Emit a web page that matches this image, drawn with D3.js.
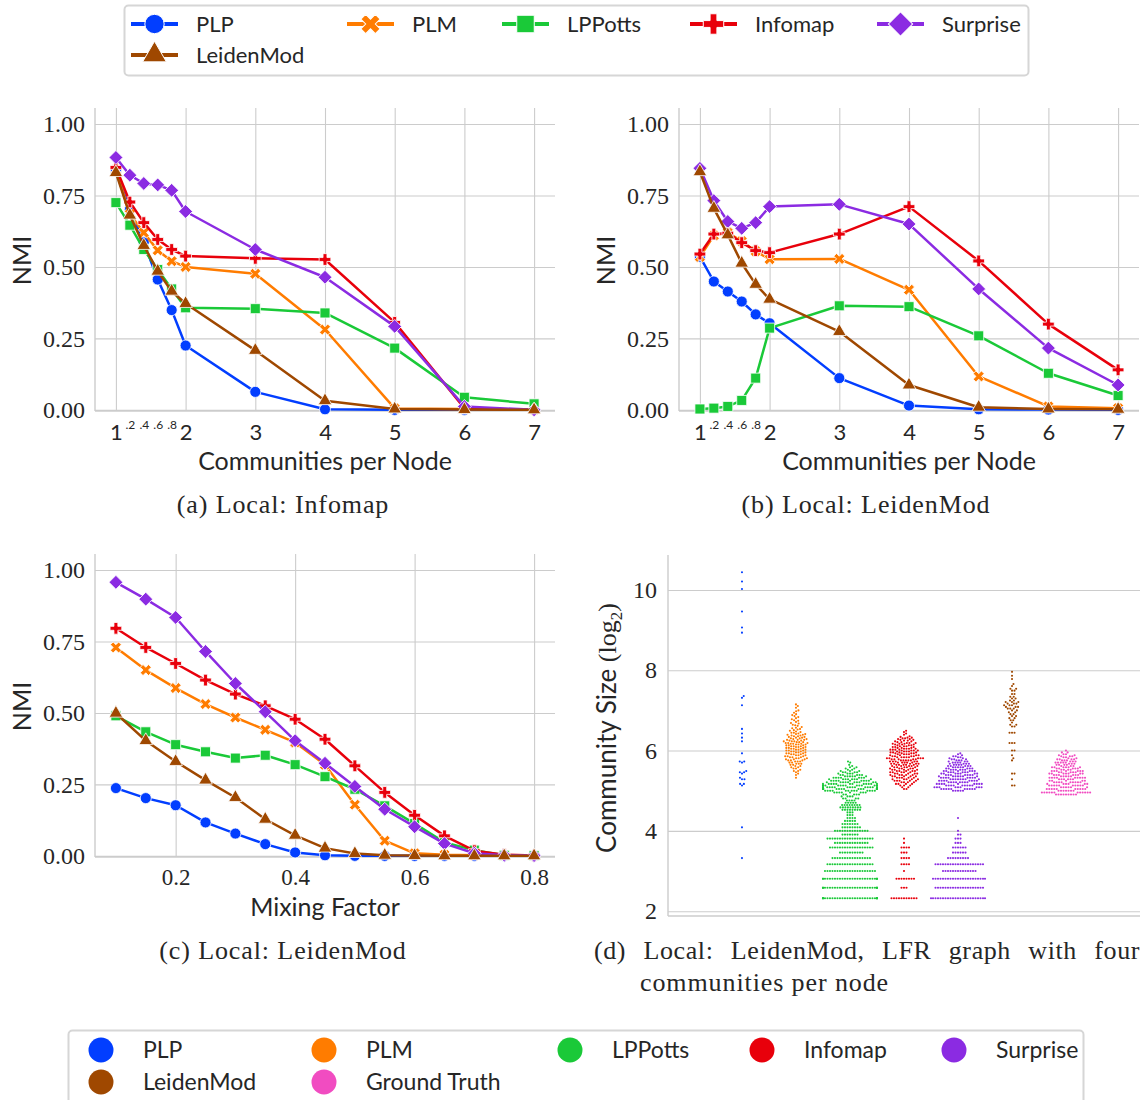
<!DOCTYPE html>
<html>
<head>
<meta charset="utf-8">
<script src="https://cdn.jsdelivr.net/npm/d3@7"></script>
<style>
  body { margin: 0; background: #fff; }
  text { fill: #262626; }
  .sans { font-family: Lato, "Open Sans", sans-serif; }
  .serif { font-family: "Liberation Serif", "DejaVu Serif", serif; }
</style>
</head>
<body>
<svg id="fig" width="1142" height="1100"></svg>
<script>
// ---- values ----
var methods = ['PLP', 'PLM', 'LPPotts', 'Infomap', 'Surprise', 'LeidenMod'];
var cpn = [1, 1.2, 1.4, 1.6, 1.8, 2, 3, 4, 5, 6, 7];
var mixing = [0.1, 0.15, 0.2, 0.25, 0.3, 0.35, 0.4, 0.45, 0.5, 0.55, 0.6, 0.65, 0.7, 0.75, 0.8];

// (a) Local: Infomap
var aPLP       = [0.836, 0.700, 0.586, 0.456, 0.349, 0.225, 0.063, 0.002, 0.000, 0.000, 0.000];
var aPLM       = [0.840, 0.685, 0.620, 0.558, 0.520, 0.500, 0.476, 0.281, 0.005, 0.003, 0.000];
var aLPPotts   = [0.725, 0.646, 0.561, 0.491, 0.423, 0.357, 0.354, 0.339, 0.216, 0.044, 0.021];
var aInfomap   = [0.848, 0.727, 0.655, 0.596, 0.561, 0.538, 0.530, 0.526, 0.306, 0.006, 0.000];
var aSurprise  = [0.883, 0.821, 0.792, 0.787, 0.768, 0.694, 0.561, 0.464, 0.292, 0.012, 0.000];
var aLeidenMod = [0.830, 0.681, 0.575, 0.485, 0.415, 0.372, 0.208, 0.032, 0.003, 0.001, 0.000];

// (b) Local: LeidenMod
var bPLP       = [0.536, 0.449, 0.414, 0.379, 0.334, 0.303, 0.111, 0.015, 0.002, 0.001, 0.000];
var bPLM       = [0.535, 0.610, 0.620, 0.590, 0.555, 0.527, 0.528, 0.420, 0.117, 0.012, 0.006];
var bLPPotts   = [0.003, 0.006, 0.012, 0.033, 0.111, 0.286, 0.364, 0.361, 0.259, 0.128, 0.050];
var bInfomap   = [0.545, 0.615, 0.618, 0.585, 0.557, 0.550, 0.615, 0.711, 0.521, 0.300, 0.140];
var bSurprise  = [0.845, 0.732, 0.659, 0.635, 0.655, 0.711, 0.719, 0.650, 0.423, 0.216, 0.087];
var bLeidenMod = [0.833, 0.705, 0.612, 0.513, 0.439, 0.387, 0.274, 0.087, 0.009, 0.003, 0.002];

// (c) Local: LeidenMod, mixing factor
var cPLP       = [0.237, 0.202, 0.177, 0.117, 0.078, 0.041, 0.012, 0.002, 0.000, 0.000, 0.000, 0.000, 0.000, 0.000, 0.000];
var cPLM       = [0.729, 0.650, 0.587, 0.531, 0.484, 0.441, 0.397, 0.319, 0.179, 0.053, 0.009, 0.004, 0.002, 0.001, 0.000];
var cLPPotts   = [0.490, 0.434, 0.389, 0.364, 0.342, 0.352, 0.319, 0.277, 0.233, 0.175, 0.113, 0.047, 0.020, 0.002, 0.001];
var cInfomap   = [0.796, 0.729, 0.673, 0.615, 0.566, 0.525, 0.478, 0.408, 0.315, 0.222, 0.142, 0.070, 0.018, 0.004, 0.001];
var cSurprise  = [0.957, 0.898, 0.834, 0.715, 0.603, 0.504, 0.403, 0.324, 0.243, 0.163, 0.102, 0.043, 0.009, 0.002, 0.001];
var cLeidenMod = [0.499, 0.403, 0.330, 0.265, 0.204, 0.128, 0.072, 0.027, 0.008, 0.002, 0.001, 0.000, 0.000, 0.000, 0.000];

var nmiTicks = [0, 0.25, 0.5, 0.75, 1];
var cpnTicks = [1, 2, 3, 4, 5, 6, 7];
var cpnMinor = [1.2, 1.4, 1.6, 1.8];
var mixTicks = [0.2, 0.4, 0.6, 0.8];

// (d) community sizes, [size, how many communities]
var swarmNames = ['PLP', 'PLM', 'LPPotts', 'Infomap', 'Surprise', 'LeidenMod', 'Ground Truth'];
var sizeTicks = [2, 4, 6, 8, 10];
var swPLP = [[10,1],[17,1],[35,1],[36,2],[39,2],[40,1],[43,1],[44,2],[45,1],[52,1],[53,2],[61,1],[75,1],[80,1],[86,1],[93,1],
  [140,1],[159,1],[164,1],[490,1],[535,1],[705,1],[1040,1],[1185,1],[1390,1]];
var swPLM = [[40,1],[42,1],[43,1],[44,1],[45,2],[46,1],[47,2],[48,2],[49,2],[50,2],[51,3],[52,2],[53,3],[54,3],[55,3],[56,3],
  [57,3],[58,3],[59,3],[60,3],[61,3],[62,3],[63,3],[64,3],[65,3],[66,3],[67,3],[68,3],[69,3],[70,3],[71,3],[72,3],[73,3],
  [74,3],[75,3],[76,2],[77,3],[78,2],[79,2],[80,2],[81,2],[82,2],[83,2],[84,2],[85,2],[86,1],[87,2],[88,1],[89,1],[90,1],
  [91,1],[92,1],[93,1],[94,1],[95,1],[96,1],[98,1],[99,1],[100,1],[102,1],[103,1],[105,1],[107,1],[108,1],[110,1],[112,1],
  [114,1],[116,1],[118,1],[120,1],[123,1],[126,1],[128,1],[134,1],[138,1],[142,1]];
var swLPPotts = [[5,30],[6,28],[7,26],[8,21],[9,19],[10,16],[11,10],[12,18],[13,14],[14,19],[15,7],[16,14],[17,8],[18,7],
  [19,5],[20,4],[21,3],[22,3],[23,8],[24,9],[25,8],[26,5],[27,4],[28,4],[29,4],[30,5],[31,8],[32,13],[33,16],[34,16],
  [35,14],[36,12],[37,10],[38,9],[39,8],[40,7],[41,6],[42,5],[43,4],[44,4],[45,3],[46,2],[47,2],[48,2],[49,1],[50,1],
  [52,1],[53,1]];
var swInfomap = [[5,11],[6,3],[7,8],[8,1],[9,4],[10,4],[11,3],[12,4],[13,1],[14,1],
  [33,2],[34,2],[35,3],[36,4],[37,4],[38,5],[39,5],[40,5],[41,5],[42,5],[43,5],[44,5],[45,5],[46,5],[47,5],[48,5],[49,5],
  [50,5],[51,5],[52,5],[53,5],[54,5],[55,5],[56,5],[57,5],[58,4],[59,4],[60,4],[61,4],[62,4],[63,4],[64,4],[65,4],[66,4],
  [67,3],[68,3],[69,3],[70,3],[71,3],[72,3],[73,3],[74,2],[75,2],[76,2],[77,2],[78,2],[79,2],[80,2],[81,1],[82,1],[84,1],
  [86,1],[88,1],[90,1]];
var swSurprise = [[5,23],[6,20],[7,22],[8,14],[9,20],[10,9],[11,6],[12,6],[13,3],[14,3],[15,2],[16,1],[20,1],
  [32,5],[33,10],[34,9],[35,9],[36,9],[37,8],[38,8],[39,8],[40,8],[41,7],[42,7],[43,7],[44,6],[45,6],[46,6],[47,5],
  [48,5],[49,5],[50,4],[51,4],[52,4],[53,3],[54,3],[55,3],[56,2],[57,2],[58,2],[59,1],[60,1],[61,1]];
var swLeidenMod = [[35,2],[39,1],[43,2],[54,1],[56,1],[59,1],[64,2],[73,3],[87,3],[97,2],[100,2],[104,1],[108,2],[112,2],
  [116,2],[120,2],[124,2],[128,2],[132,3],[136,3],[140,3],[144,3],[148,3],[152,2],[157,2],[162,2],[170,2],[180,2],[186,2],
  [195,1],[202,1],[220,1],[233,1],[249,1]];
var swGroundTruth = [[30,9],[31,12],[32,7],[33,10],[34,6],[35,10],[36,6],[37,9],[38,5],[39,6],[40,9],[41,5],[42,6],[43,7],
  [44,5],[45,7],[46,4],[47,5],[48,6],[49,3],[50,4],[51,3],[52,5],[53,3],[54,3],[55,4],[56,2],[57,2],[58,3],[59,2],[60,2],
  [62,2],[64,1]];

// ---- style ----
var color = d3.scaleOrdinal().domain(swarmNames)
  .range(['#023eff', '#ff7c00', '#1ac938', '#e8000b', '#8b2be2', '#9f4800', '#f14cc1']);
var shapeOf = { PLP: 'circle', PLM: 'x', LPPotts: 'square', Infomap: 'plus', Surprise: 'diamond', LeidenMod: 'triangle' };
var gridColor = '#cccccc';

var svg = d3.select('#fig');

function symbolFor(shape, k) {
  var s = { circle: [d3.symbolCircle, 96], x: [d3.symbolCross, 76], square: [d3.symbolSquare, 100],
            plus: [d3.symbolCross, 76], diamond: [d3.symbolSquare, 96], triangle: [d3.symbolTriangle, 80] }[shape];
  return d3.symbol(s[0], s[1] * k * k)();
}
function rotFor(shape) { return (shape == 'x' || shape == 'diamond') ? 45 : 0; }

function grid(sel) {
  sel.select('.domain').remove();
  sel.selectAll('line').attr('stroke', gridColor).attr('stroke-width', 1.1);
}

function nmiPanel(p) {
  var x = d3.scaleLinear().domain(p.xDomain).range([p.left, p.right]);
  var y = d3.scaleLinear().domain([-0.004, 1.056]).range([p.bottom, p.top]);
  var g = svg.append('g');

  g.append('g').attr('transform', 'translate(' + p.left + ',0)')
    .call(d3.axisLeft(y).tickValues(nmiTicks).tickSize(-(p.right - p.left)).tickFormat(''))
    .call(grid);
  g.append('g').attr('transform', 'translate(0,' + p.bottom + ')')
    .call(d3.axisBottom(x).tickValues(p.xTicks).tickSize(-(p.bottom - p.top)).tickFormat(''))
    .call(grid);
  g.append('line').attr('x1', p.left).attr('x2', p.left).attr('y1', p.top).attr('y2', p.bottom)
    .attr('stroke', gridColor).attr('stroke-width', 1.4);
  g.append('line').attr('x1', p.left).attr('x2', p.right).attr('y1', p.bottom).attr('y2', p.bottom)
    .attr('stroke', gridColor).attr('stroke-width', 1.4);

  var ya = g.append('g').attr('transform', 'translate(' + p.left + ',0)')
    .call(d3.axisLeft(y).tickValues(nmiTicks).tickFormat(d3.format('.2f')).tickSize(0).tickPadding(10));
  ya.select('.domain').remove();
  ya.attr('font-family', null).attr('font-size', 24).attr('class', 'serif');
  ya.selectAll('text').attr('fill', '#262626');

  var xa = g.append('g').attr('transform', 'translate(0,' + p.bottom + ')')
    .call(d3.axisBottom(x).tickValues(p.xTicks).tickFormat(p.xFormat).tickSize(0));
  xa.select('.domain').remove();
  xa.attr('font-family', null).attr('font-size', p.xFont == 'serif' ? 23 : 22).attr('class', p.xFont);
  xa.selectAll('text').attr('fill', '#262626').attr('dy', null).attr('y', p.xFont == 'serif' ? 28 : 29);

  if (p.minor) {
    var ma = g.append('g').attr('transform', 'translate(0,' + p.bottom + ')')
      .call(d3.axisBottom(x).tickValues(p.minor).tickFormat(function (d) { return d3.format('.1f')(d).slice(1); }).tickSize(0));
    ma.select('.domain').remove();
    ma.attr('font-family', null).attr('font-size', 12).attr('class', 'sans');
    ma.selectAll('text').attr('fill', '#262626').attr('dy', null).attr('y', 18);
  }

  methods.forEach(function (m) {
    var vals = p.series[m];
    var pts = p.xs.map(function (xv, j) { return [x(xv), y(vals[j])]; });
    g.append('path').attr('d', d3.line()(pts)).attr('fill', 'none')
      .attr('stroke', color(m)).attr('stroke-width', 2.5).attr('stroke-linejoin', 'round');
    g.selectAll(null).data(pts).join('path')
      .attr('transform', function (d) { return 'translate(' + d[0] + ',' + d[1] + ') rotate(' + rotFor(shapeOf[m]) + ')'; })
      .attr('d', symbolFor(shapeOf[m], 1))
      .attr('fill', color(m)).attr('stroke', '#fff').attr('stroke-width', 0.8);
  });

  svg.append('text').attr('class', 'sans').attr('font-size', 25)
    .attr('transform', 'translate(' + (p.left - 64) + ',' + ((p.top + p.bottom) / 2 + 1) + ') rotate(-90)')
    .attr('text-anchor', 'middle').text('NMI');
  svg.append('text').attr('class', 'sans').attr('font-size', 25).attr('text-anchor', 'middle')
    .attr('x', (p.left + p.right) / 2).attr('y', p.bottom + p.labelDy).text(p.xLabel);
  svg.append('text').attr('class', 'serif').attr('font-size', 26).attr('letter-spacing', 0.9)
    .attr('text-anchor', 'middle').attr('x', p.capX).attr('y', p.bottom + 102).text(p.caption);
}

nmiPanel({ left: 95, right: 555, top: 108, bottom: 411, xDomain: [0.7, 7.3], xs: cpn, xTicks: cpnTicks,
  xFormat: d3.format('d'), xFont: 'sans', minor: cpnMinor, xLabel: 'Communities per Node', labelDy: 59,
  caption: '(a) Local: Infomap', capX: 283,
  series: { PLP: aPLP, PLM: aPLM, LPPotts: aLPPotts, Infomap: aInfomap, Surprise: aSurprise, LeidenMod: aLeidenMod } });

nmiPanel({ left: 679, right: 1139, top: 108, bottom: 411, xDomain: [0.7, 7.3], xs: cpn, xTicks: cpnTicks,
  xFormat: d3.format('d'), xFont: 'sans', minor: cpnMinor, xLabel: 'Communities per Node', labelDy: 59,
  caption: '(b) Local: LeidenMod', capX: 866,
  series: { PLP: bPLP, PLM: bPLM, LPPotts: bLPPotts, Infomap: bInfomap, Surprise: bSurprise, LeidenMod: bLeidenMod } });

nmiPanel({ left: 95, right: 555, top: 554, bottom: 857, xDomain: [0.065, 0.835], xs: mixing, xTicks: mixTicks,
  xFormat: d3.format('.1f'), xFont: 'serif', minor: null, xLabel: 'Mixing Factor', labelDy: 59,
  caption: '(c) Local: LeidenMod', capX: 283,
  series: { PLP: cPLP, PLM: cPLM, LPPotts: cLPPotts, Infomap: cInfomap, Surprise: cSurprise, LeidenMod: cLeidenMod } });

// ---- (d) swarm ----
function beeswarm(ys, d, half) {
  var placed = [];
  ys.slice().sort(function (a, b) { return b - a; }).forEach(function (py) {
    var near = placed.filter(function (q) { return Math.abs(q.y - py) < d; });
    var cands = [0];
    near.forEach(function (q) {
      var dx = Math.sqrt(d * d - (q.y - py) * (q.y - py));
      cands.push(q.x + dx, q.x - dx);
    });
    cands.sort(function (a, b) { return Math.abs(a) - Math.abs(b); });
    var px = cands.find(function (c) {
      return near.every(function (q) { return (q.x - c) * (q.x - c) + (q.y - py) * (q.y - py) >= d * d - 1e-6; });
    });
    placed.push({ x: px, y: py });
  });
  placed.forEach(function (q) { if (Math.abs(q.x) > half) q.x = Math.sign(q.x) * half; });
  return placed;
}

(function () {
  var left = 668, right = 1140, top = 555, bottom = 916;
  var sx = d3.scalePoint().domain(swarmNames).range([left, right]).padding(1.37);
  var sy = d3.scaleLinear().domain([1.88, 10.87]).range([bottom, top]);
  var g = svg.append('g');

  g.append('g').attr('transform', 'translate(' + left + ',0)')
    .call(d3.axisLeft(sy).tickValues(sizeTicks).tickSize(-(right - left)).tickFormat(''))
    .call(grid);
  g.append('line').attr('x1', left).attr('x2', left).attr('y1', top).attr('y2', bottom)
    .attr('stroke', gridColor).attr('stroke-width', 1.4);
  g.append('line').attr('x1', left).attr('x2', right).attr('y1', bottom).attr('y2', bottom)
    .attr('stroke', gridColor).attr('stroke-width', 1.4);

  var ya = g.append('g').attr('transform', 'translate(' + left + ',0)')
    .call(d3.axisLeft(sy).tickValues(sizeTicks).tickFormat(d3.format('d')).tickSize(0).tickPadding(11));
  ya.select('.domain').remove();
  ya.attr('font-family', null).attr('font-size', 24).attr('class', 'serif');
  ya.selectAll('text').attr('fill', '#262626');

  var sets = { 'PLP': swPLP, 'PLM': swPLM, 'LPPotts': swLPPotts, 'Infomap': swInfomap,
               'Surprise': swSurprise, 'LeidenMod': swLeidenMod, 'Ground Truth': swGroundTruth };
  swarmNames.forEach(function (name) {
    var ys = [];
    sets[name].forEach(function (pc) { for (var k = 0; k < pc[1]; k++) ys.push(sy(Math.log2(pc[0]))); });
    var pts = beeswarm(ys, 2.5, 27);
    g.selectAll(null).data(pts).join('circle')
      .attr('cx', function (d) { return sx(name) + d.x; }).attr('cy', function (d) { return d.y; })
      .attr('r', 1.05).attr('fill', color(name));
  });

  var t = svg.append('text').attr('transform', 'translate(616,728) rotate(-90)').attr('text-anchor', 'middle')
    .attr('font-size', 26);
  t.append('tspan').attr('class', 'sans').text('Community Size ');
  t.append('tspan').attr('class', 'serif').text('(log');
  t.append('tspan').attr('class', 'serif').attr('font-size', 17).attr('dy', 6).text('2');
  t.append('tspan').attr('class', 'serif').attr('dy', -6).text(')');

  // first caption line is justified by widening the word gaps
  var cap = svg.append('text').attr('class', 'serif').attr('font-size', 26).attr('letter-spacing', 0.6)
    .attr('x', 594).attr('y', 959).text('(d) Local: LeidenMod, LFR graph with four');
  var natural = cap.node().getComputedTextLength();
  cap.attr('word-spacing', Math.max(0, (546 - natural) / 6));
  svg.append('text').attr('class', 'serif').attr('font-size', 26).attr('letter-spacing', 0.9)
    .attr('x', 640).attr('y', 991).text('communities per node');
})();

// ---- legends ----
(function () {
  var g = svg.append('g');
  g.append('rect').attr('x', 124.5).attr('y', 5.5).attr('width', 904).attr('height', 70).attr('rx', 4)
    .attr('fill', '#fff').attr('stroke', '#d6d6d6').attr('stroke-width', 2);
  var colX = [131, 347, 502, 690, 877];
  methods.forEach(function (m, i) {
    var cx = colX[i % 5], cy = i < 5 ? 24 : 55;
    g.append('line').attr('x1', cx).attr('x2', cx + 47).attr('y1', cy).attr('y2', cy)
      .attr('stroke', color(m)).attr('stroke-width', 3.8);
    g.append('path').attr('d', symbolFor(shapeOf[m], 1.75))
      .attr('transform', 'translate(' + (cx + 23.5) + ',' + cy + ') rotate(' + rotFor(shapeOf[m]) + ')')
      .attr('fill', color(m)).attr('stroke', '#fff').attr('stroke-width', 1);
    g.append('text').attr('class', 'sans').attr('font-size', 22).attr('x', cx + 65).attr('y', cy + 8).text(m);
  });

  var b = svg.append('g');
  b.append('rect').attr('x', 68.5).attr('y', 1030.5).attr('width', 1015).attr('height', 90).attr('rx', 4)
    .attr('fill', '#fff').attr('stroke', '#d6d6d6').attr('stroke-width', 2);
  var bx = [101, 324, 570, 762, 954];
  swarmNames.forEach(function (m, i) {
    var cx = bx[i % 5], cy = i < 5 ? 1050 : 1082;
    b.append('circle').attr('cx', cx).attr('cy', cy).attr('r', 12.5).attr('fill', color(m));
    b.append('text').attr('class', 'sans').attr('font-size', 23).attr('x', cx + 42).attr('y', cy + 8).text(m);
  });
})();
</script>
</body>
</html>
